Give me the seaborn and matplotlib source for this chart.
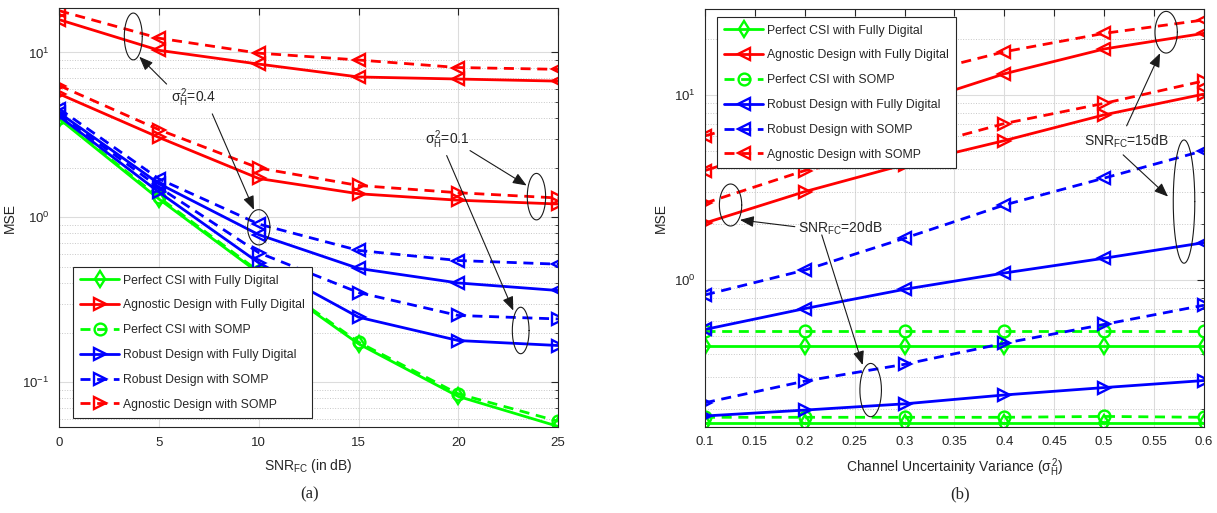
import numpy as np
import matplotlib
matplotlib.use("Agg")
import matplotlib.pyplot as plt
import seaborn as sns
from matplotlib.ticker import LogLocator, FixedLocator

# ---------------- data: panel (a) ----------------
snr_db = [0, 5, 10, 15, 20, 25]
a_pcsi_fd = [3.95, 1.29, 0.46, 0.171, 0.082, 0.054]
a_pcsi_somp = [4.0, 1.32, 0.47, 0.175, 0.085, 0.058]
a_agn_fd_04 = [15.8, 10.3, 8.5, 7.1, 6.9, 6.7]
a_agn_somp_04 = [17.9, 12.2, 9.9, 9.0, 8.1, 7.9]
a_agn_fd_01 = [5.6, 3.05, 1.72, 1.39, 1.27, 1.205]
a_agn_somp_01 = [6.3, 3.4, 1.99, 1.56, 1.41, 1.31]
a_rob_fd_04 = [4.3, 1.6, 0.785, 0.49, 0.40, 0.36]
a_rob_somp_04 = [4.55, 1.71, 0.91, 0.63, 0.547, 0.52]
a_rob_fd_01 = [4.1, 1.42, 0.53, 0.248, 0.179, 0.167]
a_rob_somp_01 = [4.2, 1.52, 0.61, 0.35, 0.254, 0.242]

# ---------------- data: panel (b) ----------------
sigma_h = [0.1, 0.2, 0.3, 0.4, 0.5, 0.6]
b_pcsi_fd_15 = [0.44, 0.44, 0.44, 0.44, 0.44, 0.44]
b_pcsi_somp_15 = [0.53, 0.53, 0.53, 0.53, 0.53, 0.53]
b_pcsi_fd_20 = [0.168, 0.168, 0.168, 0.168, 0.168, 0.168]
b_pcsi_somp_20 = [0.181, 0.181, 0.181, 0.181, 0.183, 0.181]
b_agn_fd_15 = [3.9, 5.8, 8.7, 13.0, 17.7, 21.5]
b_agn_somp_15 = [6.0, 8.6, 12.5, 17.1, 21.5, 25.4]
b_agn_fd_20 = [2.03, 3.0, 4.2, 5.66, 7.8, 10.1]
b_agn_somp_20 = [2.6, 3.9, 5.0, 7.0, 9.0, 11.9]
b_rob_fd_15 = [0.54, 0.70, 0.89, 1.09, 1.31, 1.59]
b_rob_somp_15 = [0.83, 1.13, 1.68, 2.54, 3.55, 5.0]
b_rob_fd_20 = [0.184, 0.198, 0.214, 0.239, 0.262, 0.286]
b_rob_somp_20 = [0.217, 0.284, 0.35, 0.455, 0.575, 0.73]

legend_labels = ["Perfect CSI with Fully Digital",
                 "Agnostic Design with Fully Digital",
                 "Perfect CSI with SOMP",
                 "Robust Design with Fully Digital",
                 "Robust Design with SOMP",
                 "Agnostic Design with SOMP"]

sns.set_theme(style="white")
plt.rcParams['font.family'] = ['Liberation Sans', 'DejaVu Sans']
plt.rcParams['mathtext.fontset'] = 'custom'
plt.rcParams['mathtext.rm'] = 'Liberation Sans'
plt.rcParams['mathtext.it'] = 'Liberation Sans'
plt.rcParams['mathtext.bf'] = 'Liberation Sans:bold'
plt.rcParams['axes.unicode_minus'] = False

GREEN = '#00ff00'
RED = '#ff0000'
BLUE = '#0000ff'
DASH = (0, (3.6, 2.4))
TXT = '#262626'

fig = plt.figure(figsize=(12.17, 5.13), dpi=100)
axA = fig.add_axes([0.0487, 0.1676, 0.4098, 0.8168])
axB = fig.add_axes([0.5793, 0.1682, 0.4100, 0.8137])


def draw(ax, x, y, color, ls, marker, ms=8.5):
    sns.lineplot(x=x, y=y, ax=ax, color=color, linestyle=ls, linewidth=2.0,
                 marker=marker, markersize=ms, fillstyle='none',
                 markeredgecolor=color, markeredgewidth=1.7)
    return ax.lines[-1]


def ellipse(ax, cx, cy, ax_half, log_half):
    t = np.linspace(0, 2 * np.pi, 200)
    ax.plot(cx + ax_half * np.cos(t), 10 ** (np.log10(cy) + log_half * np.sin(t)),
            color='k', lw=0.8, zorder=6)


def arrow(ax, start, end):
    ax.annotate('', xy=end, xytext=start,
                arrowprops=dict(arrowstyle='-|>,head_length=0.7,head_width=0.28',
                                color='k', lw=0.8, shrinkA=0, shrinkB=0),
                zorder=7)


def style_axes(ax):
    ax.set_yscale('log')
    ax.grid(True, which='major', color='#dcdcdc', lw=0.8)
    ax.grid(True, which='minor', axis='y', color='#c8c8c8', lw=0.7, linestyle=':')
    ax.set_axisbelow(True)
    ax.tick_params(which='both', direction='in', top=True, right=True,
                   labelsize=9.5, colors=TXT, pad=7)
    ax.tick_params(which='major', length=5, width=0.8)
    ax.tick_params(which='minor', length=2.5, width=0.6)
    ax.yaxis.set_major_locator(LogLocator(base=10, numticks=10))
    ax.yaxis.set_minor_locator(LogLocator(base=10, subs=np.arange(2, 10), numticks=20))
    for s in ax.spines.values():
        s.set_color(TXT)
        s.set_linewidth(0.8)
    ax.set_ylabel('MSE', fontsize=10, color=TXT)


# ---------------- panel (a) ----------------
hA = [None] * 6
hA[0] = draw(axA, snr_db, a_pcsi_fd, GREEN, '-', 'd')
hA[2] = draw(axA, snr_db, a_pcsi_somp, GREEN, DASH, 'o')
draw(axA, snr_db, a_agn_fd_04, RED, '-', '<')
draw(axA, snr_db, a_agn_somp_04, RED, DASH, '<')
hA[1] = draw(axA, snr_db, a_agn_fd_01, RED, '-', '>')
hA[5] = draw(axA, snr_db, a_agn_somp_01, RED, DASH, '>')
draw(axA, snr_db, a_rob_fd_04, BLUE, '-', '<')
draw(axA, snr_db, a_rob_somp_04, BLUE, DASH, '<')
hA[3] = draw(axA, snr_db, a_rob_fd_01, BLUE, '-', '>')
hA[4] = draw(axA, snr_db, a_rob_somp_01, BLUE, DASH, '>')

style_axes(axA)
axA.set_xlim(0, 25)
axA.set_ylim(0.0535, 18.6)
axA.xaxis.set_major_locator(FixedLocator(snr_db))
axA.set_xlabel('SNR$_{FC}$ (in dB)', fontsize=10, color=TXT, labelpad=6)

ellipse(axA, 3.71, 12.5, 0.45, 0.142)
ellipse(axA, 10.0, 0.87, 0.56, 0.107)
ellipse(axA, 23.92, 1.335, 0.46, 0.141)
ellipse(axA, 23.13, 0.206, 0.42, 0.141)
axA.text(6.74, 5.3, r'$\sigma^2_H$=0.4', ha='center', va='center', fontsize=10, color=TXT)
axA.text(19.46, 2.96, r'$\sigma^2_H$=0.1', ha='center', va='center', fontsize=10, color=TXT)
arrow(axA, (5.38, 6.43), (4.01, 9.42))
arrow(axA, (7.67, 4.24), (9.76, 1.11))
arrow(axA, (20.59, 2.54), (23.43, 1.56))
arrow(axA, (19.42, 2.37), (22.76, 0.272))

legA = axA.legend(hA, legend_labels, loc='lower left', bbox_to_anchor=(0.0275, 0.0215),
                  borderaxespad=0, fontsize=8.8, handlelength=3.2, handletextpad=0.3,
                  labelspacing=1.05, numpoints=1, fancybox=False, framealpha=1,
                  edgecolor='#262626', borderpad=0.6)
legA.get_frame().set_linewidth(0.8)

# ---------------- panel (b) ----------------
hB = [None] * 6
hB[0] = draw(axB, sigma_h, b_pcsi_fd_15, GREEN, '-', 'd')
hB[2] = draw(axB, sigma_h, b_pcsi_somp_15, GREEN, DASH, 'o')
draw(axB, sigma_h, b_pcsi_fd_20, GREEN, '-', 'd')
draw(axB, sigma_h, b_pcsi_somp_20, GREEN, DASH, 'o')
hB[1] = draw(axB, sigma_h, b_agn_fd_15, RED, '-', '<')
hB[5] = draw(axB, sigma_h, b_agn_somp_15, RED, DASH, '<')
draw(axB, sigma_h, b_agn_fd_20, RED, '-', '>')
draw(axB, sigma_h, b_agn_somp_20, RED, DASH, '>')
hB[3] = draw(axB, sigma_h, b_rob_fd_15, BLUE, '-', '<')
hB[4] = draw(axB, sigma_h, b_rob_somp_15, BLUE, DASH, '<')
draw(axB, sigma_h, b_rob_fd_20, BLUE, '-', '>')
draw(axB, sigma_h, b_rob_somp_20, BLUE, DASH, '>')

style_axes(axB)
axB.set_xlim(0.1, 0.6)
axB.set_ylim(0.161, 29.0)
axB.xaxis.set_major_locator(FixedLocator(np.round(np.arange(0.1, 0.601, 0.05), 2)))
axB.set_xticklabels(['0.1', '0.15', '0.2', '0.25', '0.3', '0.35', '0.4', '0.45',
                     '0.5', '0.55', '0.6'])
axB.set_xlabel(r'Channel Uncertainity Variance ($\sigma^2_H$)', fontsize=10, color=TXT, labelpad=6)

ellipse(axB, 0.5621, 21.8, 0.0112, 0.1126)
ellipse(axB, 0.580, 2.65, 0.0108, 0.333)
ellipse(axB, 0.1256, 2.54, 0.0112, 0.1135)
ellipse(axB, 0.266, 0.254, 0.0108, 0.144)
axB.text(0.5225, 5.6, r'SNR$_{FC}$=15dB', ha='center', va='center', fontsize=10, color=TXT)
axB.text(0.236, 1.9, r'SNR$_{FC}$=20dB', ha='center', va='center', fontsize=10, color=TXT)
arrow(axB, (0.5225, 6.8), (0.556, 16.8))
arrow(axB, (0.519, 4.74), (0.564, 2.82))
arrow(axB, (0.190, 1.94), (0.135, 2.11))
arrow(axB, (0.217, 1.75), (0.258, 0.347))

legB = axB.legend(hB, legend_labels, loc='upper left', bbox_to_anchor=(0.024, 0.981),
                  borderaxespad=0, fontsize=8.8, handlelength=3.2, handletextpad=0.3,
                  labelspacing=1.05, numpoints=1, fancybox=False, framealpha=1,
                  edgecolor='#262626', borderpad=0.6)
legB.get_frame().set_linewidth(0.8)

fig.text(310 / 1217, 1 - 494 / 513, '(a)', ha='center', va='center', fontsize=12,
         family=['Liberation Serif', 'DejaVu Serif'])
fig.text(960 / 1217, 1 - 494 / 513, '(b)', ha='center', va='center', fontsize=12,
         family=['Liberation Serif', 'DejaVu Serif'])

fig.savefig('out.png', dpi=100, facecolor='white')
